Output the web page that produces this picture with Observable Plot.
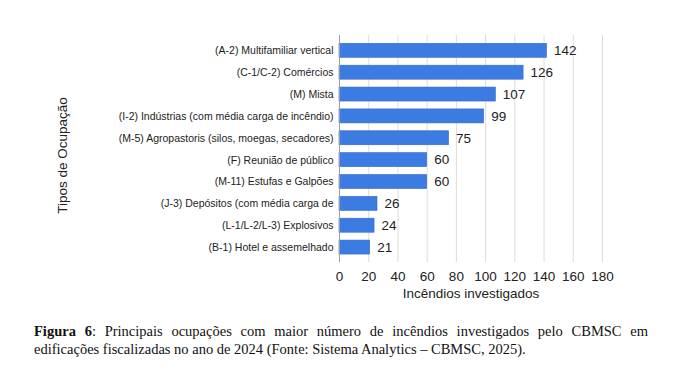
<!DOCTYPE html>
<html>
<head>
<meta charset="utf-8">
<script src="https://cdn.jsdelivr.net/npm/d3@7"></script>
<script src="https://cdn.jsdelivr.net/npm/@observablehq/plot@0.6"></script>
<style>
  html, body { margin: 0; padding: 0; background: #fff; }
  #chart svg { display: block; }
  #caption {
    font-family: "Liberation Serif", "Times New Roman", serif;
    font-size: 14.5px;
    line-height: 18px;
    color: #111;
    text-align: justify;
    width: 614px;
    margin-left: 34px;
    margin-top: 12px;
  }
</style>
</head>
<body>
<div id="chart"></div>
<div id="caption"><b>Figura 6</b>: Principais ocupações com maior número de incêndios investigados pelo CBMSC em edificações fiscalizadas no ano de 2024 (Fonte: Sistema Analytics – CBMSC, 2025).</div>
<script>
const categories = [
  "(A-2) Multifamiliar vertical",
  "(C-1/C-2) Comércios",
  "(M) Mista",
  "(I-2) Indústrias (com média carga de incêndio)",
  "(M-5) Agropastoris (silos, moegas, secadores)",
  "(F) Reunião de público",
  "(M-11) Estufas e Galpões",
  "(J-3) Depósitos (com média carga de",
  "(L-1/L-2/L-3) Explosivos",
  "(B-1) Hotel e assemelhado"
];
const values = [142, 126, 107, 99, 75, 60, 60, 26, 24, 21];
const xTicks = [0, 20, 40, 60, 80, 100, 120, 140, 160, 180];
const xTitle = "Incêndios investigados";
const yTitle = "Tipos de Ocupação";

const data = categories.map((c, i) => ({category: c, value: values[i]}));

const plot = Plot.plot({
  width: 685,
  height: 310,
  marginLeft: 339,
  marginRight: 83,
  marginTop: 35,
  marginBottom: 48,
  style: {fontFamily: "'Liberation Sans', Arial, sans-serif", background: "#fff"},
  x: {domain: [0, 180], ticks: xTicks},
  y: {domain: categories, paddingInner: 0.36, paddingOuter: 0.18, insetTop: 4.4, insetBottom: 4, round: false},
  marks: [
    Plot.gridX(xTicks, {stroke: "#dcdcdc", strokeOpacity: 1, strokeWidth: 1}),
    Plot.barX(data, {x: "value", y: "category", fill: "#3c7be2", stroke: "#3369c4", strokeWidth: 0.6}),
    Plot.ruleX([0], {stroke: "#9e9e9e", strokeWidth: 1}),
    Plot.text(data, {x: "value", y: "category", text: d => String(d.value), textAnchor: "start", dx: 7, fontSize: 13.5, fill: "#222"}),
    Plot.axisY({tickSize: 0, tickPadding: 6, fontSize: 10.5, label: null, color: "#222"}),
    Plot.axisX(xTicks, {tickSize: 0, tickPadding: 9, fontSize: 13.5, label: null, color: "#222"}),
    Plot.text([xTitle], {frameAnchor: "bottom", dy: 35, fontSize: 13.5, fill: "#222"}),
    Plot.text([yTitle], {frameAnchor: "left", textAnchor: "middle", rotate: -90, dx: -277, dy: 6.5, fontSize: 13.5, fill: "#222"})
  ]
});
document.getElementById("chart").appendChild(plot);
</script>
</body>
</html>
